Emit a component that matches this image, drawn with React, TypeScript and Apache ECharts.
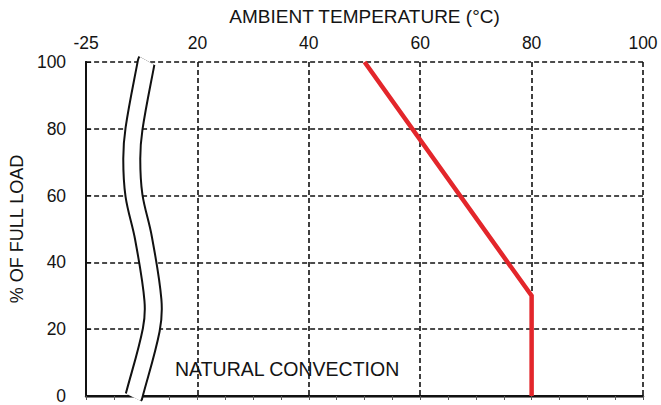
import React, { useEffect, useRef } from "react";
import * as echarts from "echarts";

// X axis positions (left edge is the broken -25 °C point)
const xTickValues = [0, 20, 40, 60, 80, 100];
const xTickLabels = ["-25", "20", "40", "60", "80", "100"];
const yTickValues = [0, 20, 40, 60, 80, 100];

// Derating curve: [ambient temperature °C, % of full load]
const deratingCurve: [number, number][] = [
  [50, 100],
  [80, 30],
  [80, 0],
];

// Centre line of the axis-break band (axis units)
const breakCenter: [number, number][] = [
  [10.9, 100.4],
  [10.8, 100],
  [8.6, 80],
  [8.2, 71],
  [8.6, 60],
  [10.3, 47.3],
  [12.0, 28.7],
  [11.7, 19.8],
  [8.6, 0],
  [8.5, -0.4],
];

const FONT = "'Liberation Sans', Arial, sans-serif";
const INK = "#141414";

export default function App() {
  const ref = useRef<HTMLDivElement>(null);

  useEffect(() => {
    if (!ref.current) return;
    const chart = echarts.init(ref.current, undefined, { renderer: "svg" });
    const gridDash = { color: "#111", width: 1.6, type: [5, 3] as number[] };
    chart.setOption({
      animation: false,
      backgroundColor: "#fff",
      textStyle: { fontFamily: FONT },
      grid: { left: 82, right: 18, top: 62, bottom: 5, containLabel: false },
      xAxis: [
        {
          type: "value",
          position: "top",
          min: 0,
          max: 100,
          interval: 20,
          name: "AMBIENT TEMPERATURE (°C)",
          nameLocation: "middle",
          nameGap: 36,
          nameTextStyle: { fontFamily: FONT, fontSize: 19, color: INK },
          axisLine: { show: true, lineStyle: { color: "#555", width: 2.5 } },
          axisTick: { show: true, inside: true, length: 4, lineStyle: { color: "#555" } },
          minorTick: { show: true, splitNumber: 4, length: 4, lineStyle: { color: "#555", width: 1 } },
          axisLabel: {
            fontFamily: FONT,
            fontSize: 17.5,
            color: INK,
            margin: 10,
            formatter: (v: number) => {
              const i = xTickValues.indexOf(v);
              return i >= 0 ? xTickLabels[i] : "";
            },
          },
          splitLine: { show: true, lineStyle: gridDash },
        },
        {
          type: "value",
          position: "bottom",
          min: 0,
          max: 100,
          interval: 20,
          axisLine: { show: true, lineStyle: { color: "#111", width: 2 } },
          axisTick: { show: false },
          axisLabel: { show: false },
          splitLine: { show: false },
        },
      ],
      yAxis: [
        {
          type: "value",
          position: "left",
          min: 0,
          max: 100,
          interval: 20,
          name: "% OF FULL LOAD",
          nameLocation: "middle",
          nameGap: 56,
          nameTextStyle: { fontFamily: FONT, fontSize: 18, color: INK },
          axisLine: { show: true, lineStyle: { color: "#111", width: 2 } },
          axisTick: { show: true, inside: true, length: 5, lineStyle: { color: "#111" } },
          axisLabel: {
            fontFamily: FONT,
            fontSize: 17.5,
            color: INK,
            margin: 20,
            formatter: (v: number) => (yTickValues.includes(v) ? String(v) : ""),
          },
          splitLine: { show: true, lineStyle: gridDash },
        },
        {
          type: "value",
          position: "right",
          min: 0,
          max: 100,
          interval: 20,
          axisLine: { show: true, lineStyle: { color: "#111", width: 2 } },
          axisTick: { show: false },
          axisLabel: { show: false },
          splitLine: { show: false },
        },
      ],
      series: [
        {
          type: "line",
          xAxisIndex: 0,
          yAxisIndex: 0,
          data: deratingCurve,
          symbol: "none",
          lineStyle: { color: "#e3262b", width: 4.5, cap: "butt", join: "miter" },
          z: 4,
        },
        {
          type: "custom",
          xAxisIndex: 0,
          yAxisIndex: 0,
          data: [[0, 0]],
          clip: false,
          silent: true,
          z: 6,
          renderItem: (_params: any, api: any) => {
            const pts = breakCenter.map((p) => api.coord(p));
            return {
              type: "group",
              children: [
                {
                  type: "polyline",
                  shape: { points: pts, smooth: 0.35 },
                  style: { stroke: "#111", lineWidth: 19, fill: null, lineCap: "butt" },
                },
                {
                  type: "polyline",
                  shape: { points: pts, smooth: 0.35 },
                  style: { stroke: "#fff", lineWidth: 15, fill: null, lineCap: "butt" },
                },
              ],
            };
          },
        },
      ],
      graphic: [
        {
          type: "text",
          left: 175,
          top: 359,
          z: 10,
          style: {
            text: "NATURAL CONVECTION",
            fontFamily: FONT,
            fontSize: 19.5,
            fill: INK,
          },
        },
      ],
    });
    return () => chart.dispose();
  }, []);

  return <div ref={ref} style={{ width: 661, height: 405, position: "absolute", left: 0, top: 0 }} />;
}
